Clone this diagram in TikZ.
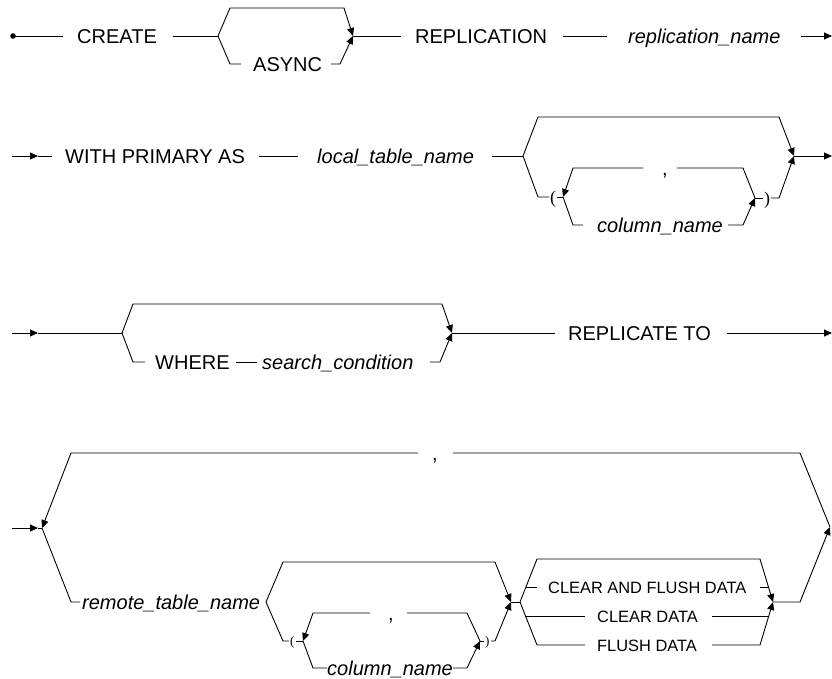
\documentclass[tikz,border=0pt]{standalone}
\usepackage{fontspec}
\setmainfont{Liberation Sans}
\newfontfamily\parenfont{Liberation Serif}
\usetikzlibrary{arrows.meta}
\begin{document}
\begin{tikzpicture}[x=1pt,y=-1pt,
  rline/.style={line width=0.9pt, draw=black},
  rarr/.style={rline,-{Triangle[length=8pt,width=7pt]}},
  kwd/.style={anchor=base west, inner sep=0pt, font=\fontsize{20}{24}\selectfont},
  idt/.style={anchor=base west, inner sep=0pt, font=\fontsize{20}{24}\selectfont\itshape},
  smt/.style={anchor=base west, inner sep=0pt, font=\fontsize{16.4}{20}\selectfont},
  prt/.style={anchor=base west, inner sep=0pt, font=\fontsize{13}{15}\parenfont},
  prb/.style={anchor=base west, inner sep=0pt, font=\fontsize{18}{20}\parenfont},
]
\useasboundingbox (0,0) rectangle (832,678);

% ---------- Row 1 ----------
\coordinate (start) at (13,36);
\fill (start) circle (2.8);
\draw[rline] (start) -- (63,36);
\node[kwd] (create) at (77,43) {CREATE};
\draw[rline] (173,36) -- (218,36);
\coordinate (j1) at (218,36);
\coordinate (j2) at (353,36);
\draw[rarr] (j1) -- (230,8) -- (344,8) -- (j2);
\draw[rline] (j1) -- (230,64) -- (241,64);
\node[kwd] (async) at (253,71) {ASYNC};
\draw[rarr] (331,64) -- (340,64) -- (j2);
\draw[rline] (j2) -- (401,36);
\node[kwd] (replication) at (415,43) {REPLICATION};
\draw[rline] (563,36) -- (607,36);
\node[idt] (repname) at (628,43) {replication\_name};
\draw[rarr] (801,36) -- (832,36);

% ---------- Row 2 ----------
\draw[rarr] (12,156) -- (38,156);
\draw[rline] (38,156) -- (52,156);
\node[kwd] (withprim) at (65,163) {WITH PRIMARY AS};
\draw[rline] (259,156) -- (298,156);
\node[idt] (localtab) at (317,163) {local\_table\_name};
\draw[rline] (492,156) -- (523,156);
\coordinate (b2l) at (523,156);
\coordinate (b2r) at (794,156);
\draw[rarr] (b2l) -- (538,117) -- (779,117) -- (b2r);
\draw[rline] (b2l) -- (538,197) -- (549,197);
\node[prb] (lp1) at (550,203) {(};
\draw[rline] (557,197) -- (563,197);
\coordinate (k1l) at (563,197);
\coordinate (k1r) at (755,198);
\draw[rline] (k1r) -- (743,168) -- (677,168);
\node[kwd] (comma1) at (662,175) {,};
\draw[rarr] (643,168) -- (573,168) -- (k1l);
\draw[rline] (k1l) -- (573,225) -- (583,225);
\node[idt] (col1) at (597,232) {column\_name};
\draw[rarr] (728,225) -- (743,225) -- (k1r);
\draw[rline] (k1r) -- (763,198);
\node[prb] (rp1) at (764,204) {)};
\draw[rarr] (771,198) -- (779,198) -- (b2r);
\draw[rarr] (b2r) -- (832,156);

% ---------- Row 3 ----------
\draw[rarr] (12,333) -- (38,333);
\draw[rline] (38,333) -- (122,333);
\coordinate (b3l) at (122,333);
\coordinate (b3r) at (452,333);
\draw[rarr] (b3l) -- (133,304) -- (442,304) -- (b3r);
\draw[rline] (b3l) -- (133,362) -- (145,362);
\node[kwd] (where) at (155,369) {WHERE};
\draw[rline] (236,362) -- (257,362);
\node[idt] (searchc) at (262,369) {search\_condition};
\draw[rarr] (430,362) -- (440,362) -- (b3r);
\draw[rline] (b3r) -- (555,333);
\node[kwd] (repto) at (568,340) {REPLICATE TO};
\draw[rarr] (727,333) -- (832,333);

% ---------- Row 4 ----------
\draw[rarr] (12,528) -- (38,528);
\draw[rline] (38,528) -- (42,528);
\coordinate (b4l) at (42,528);
\coordinate (b4r) at (830,527);
\draw[rline] (b4r) -- (800,453) -- (453,453);
\node[kwd] (comma2) at (432,460) {,};
\draw[rarr] (418,453) -- (71,453) -- (b4l);
\draw[rline] (b4l) -- (71,602) -- (80,602);
\node[idt] (remote) at (82,609) {remote\_table\_name};
\coordinate (b5l) at (266,602);
\coordinate (b5r) at (511,602);
\draw[rarr] (b5l) -- (283,562) -- (495,562) -- (b5r);
\draw[rline] (b5l) -- (283,641) -- (289,641);
\node[prt] (lp2) at (290,645) {(};
\draw[rline] (296,641) -- (303,641);
\coordinate (k2l) at (303,641);
\coordinate (k2r) at (480,641);
\draw[rline] (k2r) -- (467,613) -- (407,613);
\node[kwd] (comma3) at (388,620) {,};
\draw[rarr] (370,613) -- (313,613) -- (k2l);
\draw[rline] (k2l) -- (313,668) -- (327,668);
\node[idt] (col2) at (327,675) {column\_name};
\draw[rarr] (453,668) -- (467,668) -- (k2r);
\draw[rline] (k2r) -- (484,641);
\node[prt] (rp2) at (485,645) {)};
\draw[rarr] (491,641) -- (495,641) -- (b5r);
\draw[rline] (b5r) -- (520,602);
\coordinate (b6l) at (520,602);
\coordinate (b6r) at (773,602);
\draw[rarr] (b6l) -- (537,559) -- (760,559) -- (b6r);
\draw[rline] (526,587) -- (537,587);
\node[smt] (cafd) at (548,593) {CLEAR AND FLUSH DATA};
\draw[rline] (760,587) -- (768,587);
\draw[rline] (525,616) -- (585,616);
\node[smt] (clear) at (597,622) {CLEAR DATA};
\draw[rline] (712,616) -- (769,616);
\draw[rline] (b6l) -- (537,645) -- (585,645);
\node[smt] (flush) at (597,651) {FLUSH DATA};
\draw[rarr] (712,645) -- (760,645) -- (b6r);
\draw[rarr] (b6r) -- (800,602) -- (b4r);
\end{tikzpicture}
\end{document}
